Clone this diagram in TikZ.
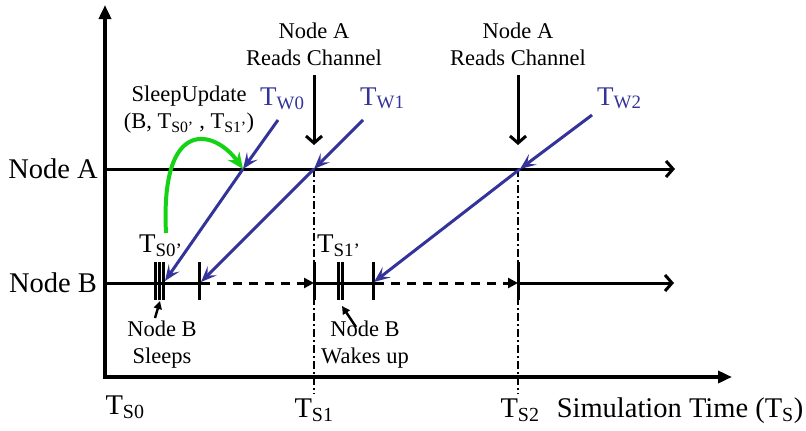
\documentclass[tikz,border=0pt]{standalone}
\usepackage{fontspec}
\setmainfont{Liberation Serif}
\usetikzlibrary{arrows.meta}
\definecolor{tblue}{RGB}{51,51,153}
\definecolor{tgreen}{RGB}{20,210,20}
\newcommand{\Tsb}[1]{T\textsubscript{#1}}
\begin{document}
\begin{tikzpicture}[x=1pt,y=-1pt,
  big/.style={font=\fontsize{28.5}{31}\selectfont},
  mid/.style={font=\fontsize{22.5}{27}\selectfont, align=center, inner sep=0pt},
  blu/.style={font=\fontsize{27}{30}\selectfont, text=tblue, inner sep=0pt},
  axis/.style={line width=4pt, -{Triangle[length=14pt,width=12pt]}},
  tline/.style={line width=3pt, -{Straight Barb[length=7pt,width=16pt,line width=3pt]}},
  downarr/.style={line width=3pt, -{Straight Barb[length=7pt,width=16pt,line width=3pt]}},
  bar/.style={line width=3pt},
  dd/.style={line width=2.4pt, dash pattern=on 8pt off 3pt on 2pt off 3pt},
  dsh/.style={line width=3pt, dash pattern=on 9pt off 7pt, -{Triangle[length=10pt,width=10pt]}},
  warr/.style={line width=3pt, draw=tblue, -{Stealth[length=16pt,width=13pt,inset=7pt]}},
  garr/.style={line width=4pt, draw=tgreen, -{Stealth[length=16pt,width=14pt,inset=5pt]}},
  smallarr/.style={line width=2.4pt, -{Triangle[length=8pt,width=8pt]}}
]
\useasboundingbox (0,0) rectangle (806,431);
% key coordinates
\coordinate (O) at (105,377);
\coordinate (Ytop) at (105,5);
\coordinate (Xend) at (732,377);
\coordinate (A0) at (105,169);
\coordinate (Aend) at (675,169);
\coordinate (B0) at (105,283);
\coordinate (Bend) at (674,283);
\coordinate (S1A) at (314,169);
\coordinate (S1B) at (314,283);
\coordinate (S1D) at (314,394);
\coordinate (S2A) at (518,169);
\coordinate (S2B) at (518,283);
\coordinate (S2D) at (518,394);
% axes
\draw[axis] (O) -- (Ytop);
\draw[axis] ([xshift=-2pt]O) -- (Xend);
% node timelines
\draw[tline] (A0) -- (Aend);
\draw[bar] (B0) -- (199,283);
\draw[bar] (S1B) -- (373,283);
\draw[tline] (S2B) -- (Bend);
% dash-dot verticals
\draw[dd] (S1A) -- (S1D);
\draw[dd] (S2A) -- (S2D);
% ticks on node B
\foreach \x in {155,159,163,199,314,338.5,342,373,518}
  \draw[bar] (\x,262) -- (\x,300);
% dashed arrows
\draw[dsh] (201,283) -- (S1B);
\draw[dsh] (375,283) -- (S2B);
% blue wake-up arrows
\coordinate (W0s) at (278,120);
\coordinate (W0a) at (243,169);
\coordinate (W0b) at (165,281);
\coordinate (W1s) at (363,120);
\coordinate (W1a) at (314,169);
\coordinate (W1b) at (201,282);
\coordinate (W2s) at (592,115);
\coordinate (W2a) at (520,169);
\coordinate (W2b) at (374,282);
\draw[warr] (W0s) -- (W0a);
\draw[warr] (W0a) -- (W0b);
\draw[warr] (W1s) -- (W1a);
\draw[warr] (W1a) -- (W1b);
\draw[warr] (W2s) -- (W2a);
\draw[warr] (W2a) -- (W2b);
\node[blu, anchor=base west] (tw0) at (260,105) {\Tsb{W0}};
\node[blu, anchor=base west] (tw1) at (360,105) {\Tsb{W1}};
\node[blu, anchor=base west] (tw2) at (597,105) {\Tsb{W2}};
% reads channel
\node[mid] (rc1) at (314,44) {Node A\\Reads Channel};
\node[mid] (rc2) at (518,44) {Node A\\Reads Channel};
\draw[downarr] (314,75) -- (314,145);
\draw[downarr] (518,75) -- (518,145);
% sleep update
\node[mid] (su) at (189,110) {SleepUpdate\\(B, \Tsb{S0’} , \Tsb{S1’})};
\coordinate (g0) at (166,233);
\draw[garr] (g0) .. controls (160,115) and (215,130) .. (W0a);
% T_S0', T_S1'
\node[blu, text=black, anchor=base west] (ts0p) at (139,252) {\Tsb{S0’}};
\node[blu, text=black, anchor=base west] (ts1p) at (317,252) {\Tsb{S1’}};
% sleeps / wakes up
\node[mid] (sl) at (162,345) {Node B\\Sleeps};
\node[mid] (wk) at (365,345) {Node B\\Wakes up};
\draw[smallarr] (155,318) -- (160,301);
\draw[smallarr] (356,327) -- (342,306);
% left labels
\node[big] (la) at (53,169) {Node A};
\node[big] (lb) at (53,283) {Node B};
% bottom labels
\node[big, anchor=base] (ts0) at (125,414) {\Tsb{S0}};
\node[big, anchor=base] (ts1) at (314,417) {\Tsb{S1}};
\node[big, anchor=base] (ts2) at (520,417) {\Tsb{S2}};
\node[big, anchor=base] (sim) at (680,417) {Simulation Time (\Tsb{S})};
\end{tikzpicture}
\end{document}
